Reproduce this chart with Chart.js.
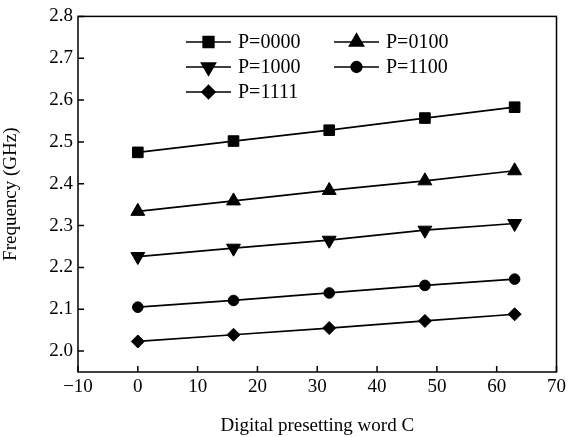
<!DOCTYPE html>
<html lang="en">
<head>
  <meta charset="UTF-8" />
  <title>Frequency vs Digital presetting word</title>
  <script src="https://cdn.jsdelivr.net/npm/chart.js"></script>
  <style>
    html, body { margin: 0; padding: 0; background: #fff; }
    #wrap { width: 570px; height: 437px; }
  </style>
</head>
<body>
  <div id="wrap"><canvas id="freqChart" width="570" height="437"></canvas></div>

  <script>
    // data
    const wordC = [0, 16, 32, 48, 63];
    const p0000 = [2.475, 2.502, 2.528, 2.557, 2.583];
    const p0100 = [2.334, 2.359, 2.384, 2.407, 2.431];
    const p1000 = [2.226, 2.246, 2.265, 2.289, 2.305];
    const p1100 = [2.105, 2.121, 2.139, 2.157, 2.172];
    const p1111 = [2.023, 2.039, 2.055, 2.072, 2.088];
    const yTicks = [2.0, 2.1, 2.2, 2.3, 2.4, 2.5, 2.6, 2.7, 2.8];

    const serif = '"Liberation Serif", "DejaVu Serif", serif';

    function series(label, values, style, radius, rotation) {
      return {
        label: label,
        data: wordC.map((c, i) => ({ x: c, y: values[i] })),
        borderColor: '#000',
        backgroundColor: '#000',
        borderWidth: 1.7,
        pointStyle: style,
        pointRadius: radius,
        pointRotation: rotation || 0,
        pointBorderWidth: 1,
        pointBorderColor: '#000',
        pointBackgroundColor: '#000',
        tension: 0
      };
    }

    // legend drawn inside the plot, two columns
    const legendSlots = [
      { x: 186, y: 42 }, { x: 334, y: 42 },
      { x: 186, y: 67 }, { x: 334, y: 67 },
      { x: 186, y: 92 }
    ];

    const insideLegend = {
      id: 'insideLegend',
      afterDraw(chart) {
        const ctx = chart.ctx;
        ctx.save();
        chart.data.datasets.forEach((ds, i) => {
          const s = legendSlots[i];
          ctx.strokeStyle = '#000';
          ctx.lineWidth = 1.7;
          ctx.beginPath();
          ctx.moveTo(s.x, s.y);
          ctx.lineTo(s.x + 45, s.y);
          ctx.stroke();
          ctx.fillStyle = '#000';
          Chart.helpers.drawPoint(ctx, {
            pointStyle: ds.pointStyle,
            radius: ds.pointRadius,
            rotation: ds.pointRotation,
            borderWidth: 1
          }, s.x + 22.5, s.y);
          ctx.font = '20px ' + serif;
          ctx.textBaseline = 'middle';
          ctx.textAlign = 'left';
          ctx.fillText(ds.label, s.x + 52, s.y + 1);
        });
        ctx.restore();
      }
    };

    // inward tick marks and the box frame
    const frame = {
      id: 'frame',
      afterDraw(chart) {
        const ctx = chart.ctx;
        const a = chart.chartArea;
        const xs = chart.scales.x, ys = chart.scales.y;
        ctx.save();
        ctx.strokeStyle = '#000';
        ctx.lineWidth = 1.5;
        ctx.strokeRect(a.left, a.top, a.right - a.left, a.bottom - a.top);
        ctx.beginPath();
        xs.ticks.forEach((t, i) => {
          const px = xs.getPixelForTick(i);
          ctx.moveTo(px, a.bottom);
          ctx.lineTo(px, a.bottom - 6);
        });
        ys.ticks.forEach((t, i) => {
          const py = ys.getPixelForTick(i);
          ctx.moveTo(a.left, py);
          ctx.lineTo(a.left + 6, py);
        });
        ctx.stroke();
        ctx.restore();
      }
    };

    const ctx = document.getElementById('freqChart').getContext('2d');
    new Chart(ctx, {
      type: 'line',
      data: {
        datasets: [
          series('P=0000', p0000, 'rect', 7.5),
          series('P=0100', p0100, 'triangle', 8),
          series('P=1000', p1000, 'triangle', 8, 180),
          series('P=1100', p1100, 'circle', 5.3),
          series('P=1111', p1111, 'rectRot', 6.5)
        ]
      },
      options: {
        responsive: false,
        animation: false,
        layout: { padding: { left: 0, right: 11, top: 16, bottom: 0 } },
        plugins: {
          legend: { display: false },
          tooltip: { enabled: false }
        },
        scales: {
          x: {
            type: 'linear',
            min: -10,
            max: 70,
            ticks: {
              stepSize: 10,
              color: '#000',
              padding: 4,
              font: { family: serif, size: 19 },
              callback: v => (v < 0 ? '\u2212' + Math.abs(v) : String(v))
            },
            grid: { display: false, drawTicks: false },
            border: { display: false },
            title: {
              display: true,
              text: 'Digital presetting word C',
              color: '#000',
              font: { family: serif, size: 19 },
              padding: { top: 4, bottom: 0 }
            },
            afterFit(scale) { scale.height = 65; }
          },
          y: {
            min: 1.95,
            max: 2.8,
            afterBuildTicks(scale) { scale.ticks = yTicks.map(v => ({ value: v })); },
            ticks: {
              color: '#000',
              padding: 5,
              font: { family: serif, size: 19 },
              callback: v => Number(v).toFixed(1)
            },
            grid: { display: false, drawTicks: false },
            border: { display: false },
            title: {
              display: true,
              text: 'Frequency (GHz)',
              color: '#000',
              font: { family: serif, size: 19 },
              padding: { top: 0, bottom: 6 }
            },
            afterFit(scale) { scale.width = 78; }
          }
        }
      },
      plugins: [frame, insideLegend]
    });
  </script>
</body>
</html>
